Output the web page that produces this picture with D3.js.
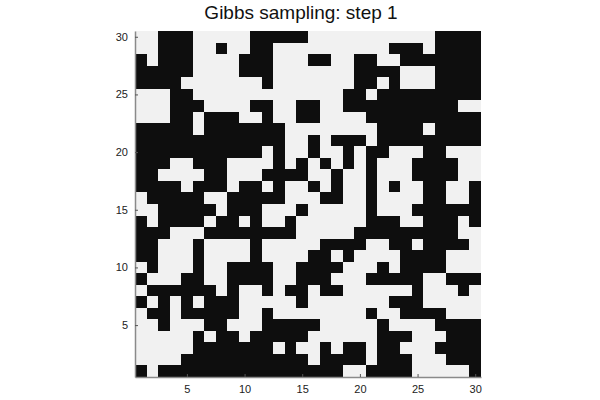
<!DOCTYPE html>
<html><head><meta charset="utf-8">
<script src="https://cdn.jsdelivr.net/npm/d3@7"></script>
<style>body{margin:0;background:#fff}svg{display:block}</style>
</head><body>
<svg id="c" width="600" height="400"></svg>
<script>
const title = "Gibbs sampling: step 1";
const cols = d3.range(1, 31);
const rowsIdx = d3.range(1, 31);
const tickValues = [5, 10, 15, 20, 25, 30];
// grid rows from top (row 30) to bottom (row 1); 1 = black, 0 = white
const grid = [
"001110000011111000000000001111",
"001110010011000000000011101111",
"101110000111000110011001111111",
"111110000111000000011110001111",
"111100000001000000011010001111",
"000110000000000000110111111111",
"000111000011001100111111111100",
"000110111001001100001111111111",
"111110111111100000000111101111",
"111111111111100101110111111111",
"111111111110100100101100011000",
"111001110000101010101000111100",
"110000110001111001001000111100",
"111101110110100101001010011001",
"011111001111100011001000011001",
"001111101110001000001000111111",
"101111011010010000001110011101",
"111000111111110000011111111100",
"110001000010000011110011011110",
"110001000010000110100001111000",
"010001001111001111000101111000",
"100011001111001110001111100111",
"011111101001011011000000100010",
"101010111000001000000011100000",
"011011111001000000001001111000",
"001000110001111100000100001111",
"000001011011111000000111000111",
"000001111111010010110110001111",
"000011111111111011110111000111",
"101111111111111111001111000001"
];

const svg = d3.select("#c");
const x0 = 135, x1 = 481, y0 = 31, y1 = 377;
const xb = d3.scaleBand().domain(cols).range([x0, x1]).paddingInner(0).paddingOuter(0);
const yb = d3.scaleBand().domain(rowsIdx).range([y1, y0]).paddingInner(0).paddingOuter(0);
const xl = d3.scaleLinear().domain([0.5, 30.5]).range([x0, x1]);
const yl = d3.scaleLinear().domain([0.5, 30.5]).range([y1, y0]);

const cells = [];
grid.forEach((s, i) => {
  const r = 30 - i;
  s.split("").forEach((ch, j) => cells.push({r, c: j + 1, v: +ch}));
});

svg.append("g").selectAll("rect").data(cells).join("rect")
  .attr("x", d => xb(d.c))
  .attr("y", d => yb(d.r))
  .attr("width", xb.bandwidth() + 0.3)
  .attr("height", yb.bandwidth() + 0.3)
  .attr("fill", d => d.v ? "#0e0e0e" : "#f1f1f1")
  .attr("shape-rendering", "crispEdges");

const fontFam = "'Liberation Sans', Arial, Helvetica, sans-serif";
const xAxis = svg.append("g").attr("transform", `translate(0,${y1})`)
  .call(d3.axisBottom(xl).tickValues(tickValues).tickSize(-3).tickPadding(8).tickSizeOuter(0));
const yAxis = svg.append("g").attr("transform", `translate(${x0},0)`)
  .call(d3.axisLeft(yl).tickValues(tickValues).tickSize(-3).tickPadding(7).tickSizeOuter(0));
[xAxis, yAxis].forEach(g => {
  g.select(".domain").attr("stroke", "#8a8a8a").attr("stroke-width", 1.5);
  g.selectAll(".tick line").attr("stroke", "#555");
  g.selectAll("text").attr("font-family", fontFam).attr("font-size", 11).attr("fill", "#222");
});

svg.append("text").attr("x", 301).attr("y", 19)
  .attr("text-anchor", "middle").attr("font-family", fontFam)
  .attr("font-size", 19).attr("fill", "#111").text(title);
</script>
</body></html>
